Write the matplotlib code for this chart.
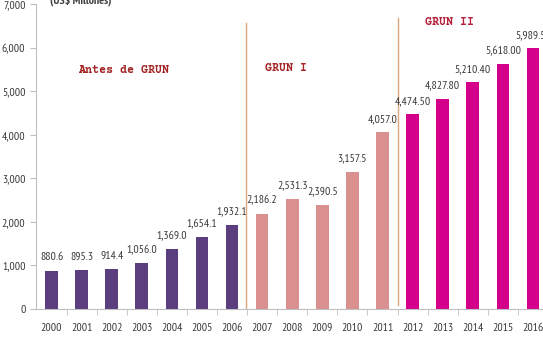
import matplotlib
matplotlib.use("Agg")
import matplotlib.pyplot as plt

years = [str(y) for y in range(2000, 2017)]
values = [880.6, 895.3, 914.4, 1056.0, 1369.0, 1654.1, 1932.1,
          2186.2, 2531.3, 2390.5, 3157.5, 4057.0,
          4474.50, 4827.80, 5210.40, 5618.00, 5989.50]
decimals = [1] * 12 + [2] * 5
periods = ["pre"] * 7 + ["grun1"] * 5 + ["grun2"] * 5

period_colors = {"pre": "#5A3E7D", "grun1": "#D9908E", "grun2": "#D4008C"}
num_font = ["PT Sans Narrow", "DejaVu Sans"]
label_font = ["Courier Prime", "Liberation Mono", "DejaVu Sans Mono"]

fig = plt.figure(figsize=(5.43, 3.41), dpi=100)
ax = fig.add_axes([0.0672, 0.0938, 0.942, 0.894])

xs = list(range(len(years)))
cols = [period_colors[p] for p in periods]
ax.bar(xs, values, width=0.42, color=cols, zorder=2)

for x, v, d in zip(xs, values, decimals):
    ax.annotate(f"{v:,.{d}f}", (x, v), xytext=(0, 6), textcoords="offset points",
                ha="center", va="bottom", fontsize=8.5, color="#3a3a3a",
                family=num_font)

# dividers between the periods
ax.plot([6.45, 6.45], [0, 6560], color="#E0A878", lw=1, zorder=1)
ax.plot([11.5, 11.5], [90, 6680], color="#E0A878", lw=1, zorder=1)

ax.text(2.41, 5480, "Antes de GRUN", ha="center", va="center", fontsize=8.5,
        fontweight="bold", family=label_font, color="#A52626")
ax.text(7.79, 5530, "GRUN I", ha="center", va="center", fontsize=8.5,
        fontweight="bold", family=label_font, color="#A52626")
ax.text(13.24, 6590, "GRUN II", ha="center", va="center", fontsize=8.5,
        fontweight="bold", family=label_font, color="#B5203A")

fig.text(0.092, 1.0, "(US$ Millones)", ha="left", va="center", fontsize=8.5,
         fontweight="bold", color="#404040", family=num_font)

ax.set_xlim(-0.5, 16.5)
ax.set_ylim(0, 7000)
ax.set_yticks(range(0, 7001, 1000))
ax.set_yticklabels([f"{t:,}" for t in range(0, 7001, 1000)], family=num_font,
                   fontsize=8.5, color="#3a3a3a")
ax.set_xticks(xs)
ax.set_xticklabels(years, family=num_font, fontsize=8.5, color="#3a3a3a")
ax.set_xticks([x + 0.5 for x in xs[:-1]], minor=True)
ax.tick_params(axis="x", which="major", length=0, pad=10)
ax.tick_params(axis="x", which="minor", length=4, color="#BFBFBF")
ax.tick_params(axis="y", length=4, color="#BFBFBF", pad=4)

for s in ["top", "right"]:
    ax.spines[s].set_visible(False)
for s in ["left", "bottom"]:
    ax.spines[s].set_color("#BFBFBF")

fig.savefig("out.png", dpi=100)
